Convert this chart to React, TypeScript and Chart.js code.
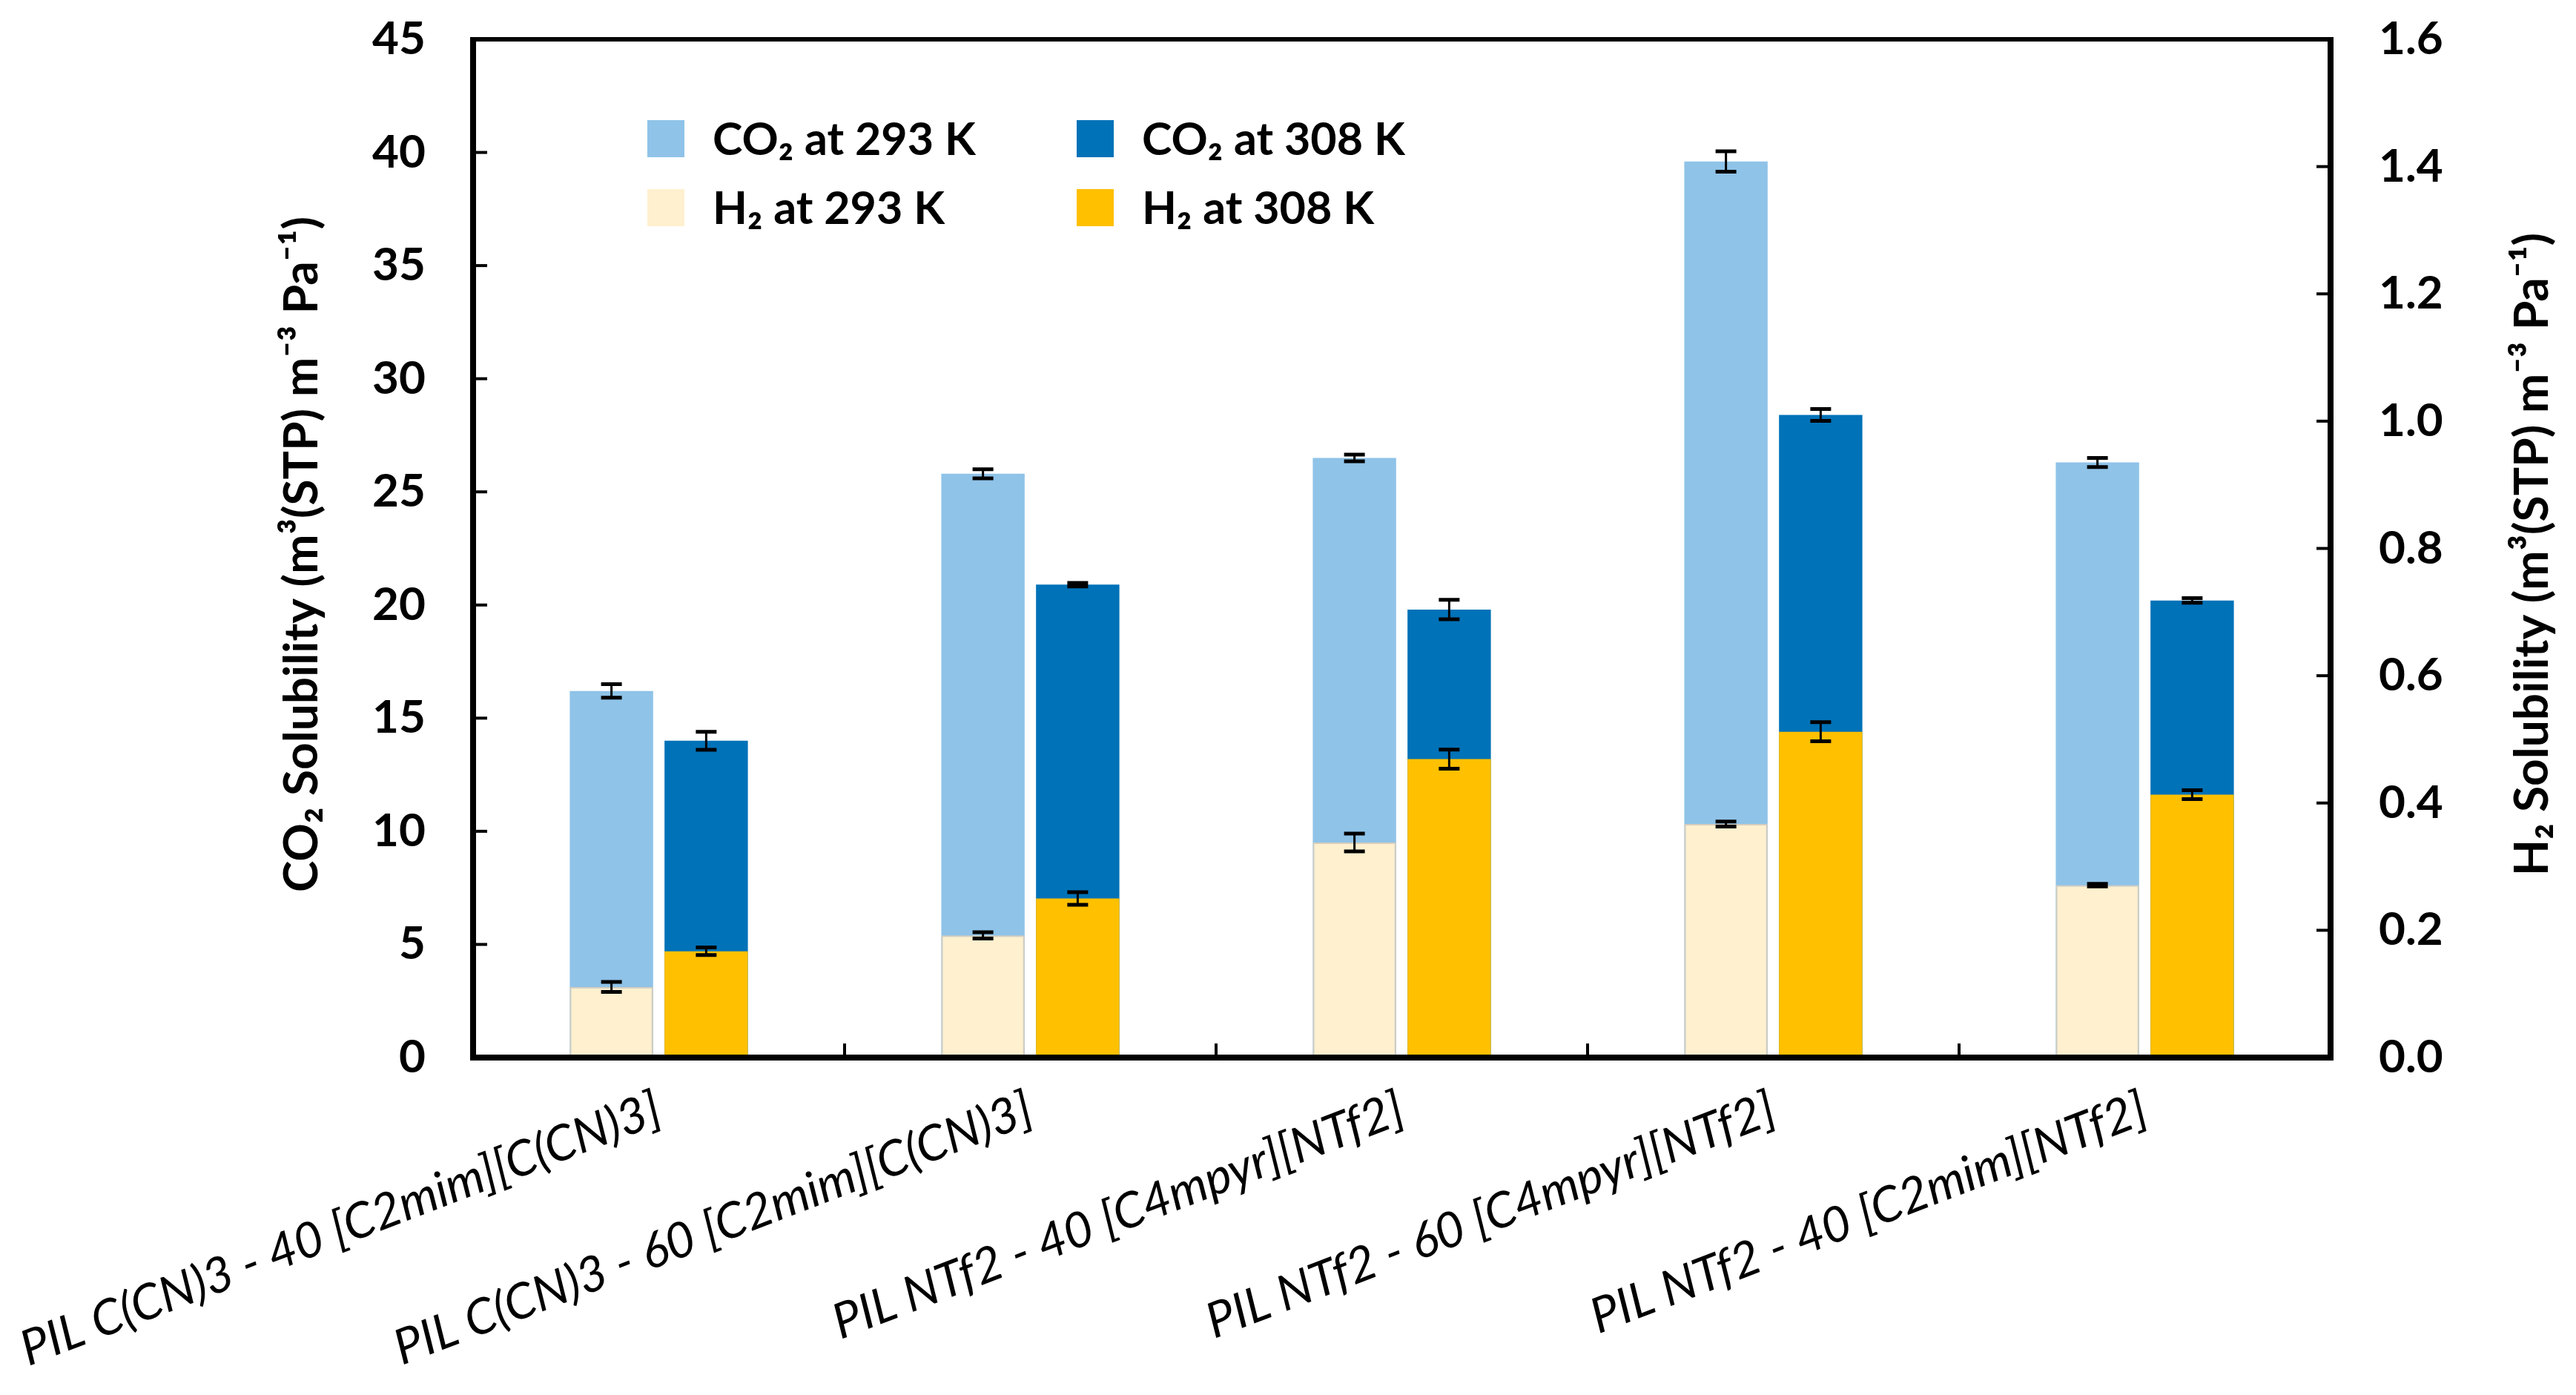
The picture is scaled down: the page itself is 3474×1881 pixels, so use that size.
import { useEffect, useRef } from 'react';
import { Chart, registerables } from 'chart.js';

Chart.register(...registerables);

// Data
const categories = [
  'PIL C(CN)3 - 40 [C2mim][C(CN)3]',
  'PIL C(CN)3 - 60 [C2mim][C(CN)3]',
  'PIL NTf2 - 40 [C4mpyr][NTf2]',
  'PIL NTf2 - 60 [C4mpyr][NTf2]',
  'PIL NTf2 - 40 [C2mim][NTf2]',
];
const co2At293 = [16.2, 25.8, 26.5, 39.6, 26.3];
const co2At308 = [14.0, 20.9, 19.8, 28.4, 20.2];
const h2At293 = [0.111, 0.192, 0.338, 0.367, 0.271];
const h2At308 = [0.167, 0.25, 0.469, 0.512, 0.413];
const co2Err293 = [0.3, 0.2, 0.15, 0.45, 0.2];
const co2Err308 = [0.4, 0.08, 0.43, 0.26, 0.1];
const h2Err293 = [0.008, 0.005, 0.014, 0.004, 0.002];
const h2Err308 = [0.006, 0.01, 0.015, 0.015, 0.007];
const seriesLabels = ['CO₂ at 293 K', 'CO₂ at 308 K', 'H₂ at 293 K', 'H₂ at 308 K'];
const leftTitle = 'CO₂ Solubility (m³(STP) m⁻³ Pa⁻¹)';
const rightTitle = 'H₂ Solubility (m³(STP) m⁻³ Pa⁻¹)';

const W = 3474;
const H = 1881;
const PLOT_LEFT = 638;
const PLOT_RIGHT = 3143;
const PLOT_TOP = 53;
const PLOT_BOTTOM = 1426;

// error bars on top of each bar
const errorBars = {
  id: 'errorBars',
  afterDatasetsDraw(chart: any) {
    const ctx = chart.ctx;
    chart.data.datasets.forEach((ds: any, i: number) => {
      const meta = chart.getDatasetMeta(i);
      const scale = chart.scales[meta.yAxisID];
      ctx.save();
      ctx.strokeStyle = '#000';
      meta.data.forEach((bar: any, j: number) => {
        const v = ds.data[j];
        const e = ds.errors[j];
        const yHi = scale.getPixelForValue(v + e);
        const yLo = scale.getPixelForValue(v - e);
        ctx.lineWidth = 3;
        ctx.beginPath();
        ctx.moveTo(bar.x, yHi);
        ctx.lineTo(bar.x, yLo);
        ctx.stroke();
        ctx.lineWidth = 5;
        ctx.beginPath();
        ctx.moveTo(bar.x - 14, yHi);
        ctx.lineTo(bar.x + 14, yHi);
        ctx.moveTo(bar.x - 14, yLo);
        ctx.lineTo(bar.x + 14, yLo);
        ctx.stroke();
      });
      ctx.restore();
    });
  },
};

// frame, inside tick marks, axis titles and legend
const decorations = {
  id: 'decorations',
  afterDraw(chart: any) {
    const ctx = chart.ctx;
    const { left, right, top, bottom } = chart.chartArea;
    ctx.save();
    ctx.fillStyle = '#000';
    ctx.fillRect(left - 4, top - 3, 8, bottom - top + 7);
    ctx.fillRect(right - 4, top - 3, 8, bottom - top + 7);
    ctx.fillRect(left - 4, bottom - 4, right - left + 8, 8);
    ctx.fillRect(left - 4, top - 3, right - left + 8, 6);

    ctx.strokeStyle = '#000';
    ctx.lineWidth = 4;
    const yl = chart.scales.y;
    yl.ticks.forEach((t: any, i: number) => {
      if (i === 0 || i === yl.ticks.length - 1) return;
      const y = yl.getPixelForValue(t.value);
      ctx.beginPath();
      ctx.moveTo(left, y);
      ctx.lineTo(left + 19, y);
      ctx.stroke();
    });
    const yr = chart.scales.y1;
    yr.ticks.forEach((t: any, i: number) => {
      if (i === 0 || i === yr.ticks.length - 1) return;
      const y = yr.getPixelForValue(t.value);
      ctx.beginPath();
      ctx.moveTo(right, y);
      ctx.lineTo(right - 19, y);
      ctx.stroke();
    });
    const xs = chart.scales.x;
    for (let i = 1; i < categories.length; i++) {
      const x = (xs.getPixelForValue(i - 1) + xs.getPixelForValue(i)) / 2;
      ctx.beginPath();
      ctx.moveTo(x, bottom);
      ctx.lineTo(x, bottom - 19);
      ctx.stroke();
    }

    // axis titles
    ctx.fillStyle = '#000';
    ctx.font = 'bold 64px Lato, "Noto Sans", sans-serif';
    ctx.textAlign = 'center';
    ctx.textBaseline = 'middle';
    const midY = (top + bottom) / 2 + 8;
    ctx.save();
    ctx.translate(407, midY);
    ctx.rotate(-Math.PI / 2);
    ctx.fillText(leftTitle, 0, 0);
    ctx.restore();
    ctx.save();
    ctx.translate(3415, midY);
    ctx.rotate(-Math.PI / 2);
    ctx.fillText(rightTitle, 0, 0);
    ctx.restore();

    // legend (2 x 2 inside plot)
    const order = [2, 3, 0, 1];
    const colX = [left + 235, left + 814];
    const rowY = [top + 134, top + 227];
    ctx.font = 'bold 61px Lato, "Noto Sans", sans-serif';
    ctx.textAlign = 'left';
    order.forEach((di, k) => {
      const ds = chart.data.datasets[di];
      const bx = colX[k % 2];
      const by = rowY[Math.floor(k / 2)];
      ctx.fillStyle = ds.backgroundColor;
      ctx.fillRect(bx, by - 25, 50, 50);
      ctx.fillStyle = '#000';
      ctx.fillText(ds.label, bx + 88, by + 2);
    });
    ctx.restore();
  },
};

export default function App() {
  const canvasRef = useRef<HTMLCanvasElement>(null);
  const chartRef = useRef<Chart | null>(null);

  useEffect(() => {
    if (!canvasRef.current) return;
    if (chartRef.current) chartRef.current.destroy();

    const tickFont = { family: 'Lato, "Noto Sans", sans-serif', weight: 'bold' as const, size: 62 };

    chartRef.current = new Chart(canvasRef.current, {
      type: 'bar',
      data: {
        labels: categories,
        datasets: [
          {
            label: seriesLabels[2],
            data: h2At293,
            errors: h2Err293,
            yAxisID: 'y1',
            stack: 't293',
            backgroundColor: '#fff0cf',
            borderColor: '#d6cdbd',
            borderWidth: 2,
            borderSkipped: 'bottom',
          } as any,
          {
            label: seriesLabels[3],
            data: h2At308,
            errors: h2Err308,
            yAxisID: 'y1',
            stack: 't308',
            backgroundColor: '#ffc000',
          } as any,
          {
            label: seriesLabels[0],
            data: co2At293,
            errors: co2Err293,
            yAxisID: 'y',
            stack: 't293',
            backgroundColor: '#8fc3e8',
          } as any,
          {
            label: seriesLabels[1],
            data: co2At308,
            errors: co2Err308,
            yAxisID: 'y',
            stack: 't308',
            backgroundColor: '#0072b8',
          } as any,
        ],
      },
      options: {
        responsive: true,
        maintainAspectRatio: false,
        animation: false,
        categoryPercentage: 0.51,
        barPercentage: 0.88,
        layout: { padding: { top: PLOT_TOP, left: 0, right: 0, bottom: 0 } },
        plugins: {
          legend: { display: false },
          tooltip: { enabled: false },
        },
        scales: {
          x: {
            stacked: true,
            grid: { display: false },
            border: { display: false },
            ticks: {
              autoSkip: false,
              minRotation: 21,
              maxRotation: 21,
              padding: 22,
              color: '#000',
              font: { family: 'Lato, "Noto Sans", sans-serif', style: 'italic', size: 66 },
            },
            afterFit: (s: any) => {
              s.height = H - PLOT_BOTTOM;
              s.paddingLeft = 0;
              s.paddingRight = 0;
            },
          },
          y: {
            position: 'left',
            stacked: false,
            min: 0,
            max: 45,
            grid: { display: false },
            border: { display: false },
            ticks: { stepSize: 5, padding: 56, color: '#000', font: tickFont },
            afterFit: (s: any) => {
              s.width = PLOT_LEFT;
              s.paddingTop = 0;
              s.paddingBottom = 0;
            },
          },
          y1: {
            position: 'right',
            stacked: false,
            min: 0,
            max: 1.6,
            grid: { display: false },
            border: { display: false },
            ticks: {
              stepSize: 0.2,
              padding: 57,
              color: '#000',
              font: tickFont,
              callback: (v: any) => Number(v).toFixed(1),
            },
            afterFit: (s: any) => {
              s.width = W - PLOT_RIGHT;
              s.paddingTop = 0;
              s.paddingBottom = 0;
            },
          },
        },
      },
      plugins: [errorBars, decorations],
    });

    return () => {
      if (chartRef.current) {
        chartRef.current.destroy();
        chartRef.current = null;
      }
    };
  }, []);

  return (
    <div style={{ position: 'fixed', left: 0, top: 0, width: W, height: H, background: '#fff' }}>
      <canvas ref={canvasRef}></canvas>
    </div>
  );
}
